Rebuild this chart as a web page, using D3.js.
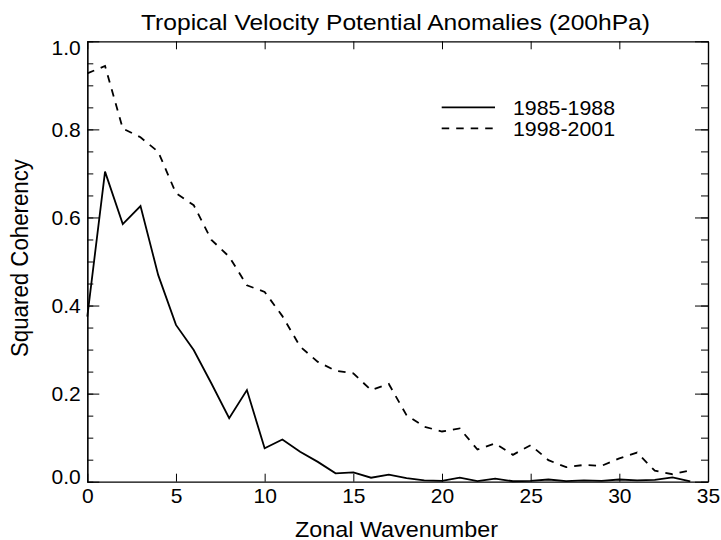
<!DOCTYPE html>
<html>
<head>
<meta charset="utf-8">
<script src="https://cdn.jsdelivr.net/npm/d3@7"></script>
<style>
  body { margin: 0; background: #fff; }
  text { font-family: "Liberation Sans", Arial, sans-serif; fill: #000; }
</style>
</head>
<body>
<div id="container"></div>
<script>
let w = 721;
let h = 540;

// DATA
let wavenumbers = d3.range(0, 35);
let coh8588 = [0.375, 0.704, 0.585, 0.626, 0.469, 0.356, 0.299, 0.223, 0.144, 0.208,
               0.076, 0.096, 0.068, 0.045, 0.019, 0.021, 0.009, 0.016, 0.008, 0.003,
               0.002, 0.009, 0.0015, 0.007, 0.001, 0.002, 0.005, 0.0015, 0.003, 0.002,
               0.005, 0.003, 0.004, 0.010, 0.001];
let coh9801 = [0.927, 0.944, 0.802, 0.782, 0.749, 0.655, 0.628, 0.549, 0.511, 0.446,
               0.431, 0.376, 0.307, 0.272, 0.252, 0.246, 0.208, 0.222, 0.151, 0.125,
               0.114, 0.121, 0.073, 0.087, 0.061, 0.083, 0.049, 0.033, 0.038, 0.036,
               0.053, 0.066, 0.025, 0.017, 0.026];
let seriesNames = ["1985-1988", "1998-2001"];
let xTicks = [0, 5, 10, 15, 20, 25, 30, 35];
let yTicks = [0, 0.2, 0.4, 0.6, 0.8, 1.0];
let yMinor = d3.range(0, 1.0001, 0.05);

let mLeft = 87.3, mRight = 708, mTop = 41.3, mBottom = 481.7;

let viz = d3.select("#container").append("svg")
    .attr("width", w)
    .attr("height", h)
    .style("background-color", "white");

// SCALES
let xScale = d3.scaleLinear().domain([0, 35]).range([mLeft, mRight]);
let yScale = d3.scaleLinear().domain([0, 1]).range([mBottom, mTop]);

// AXES (IDL style box with ticks on all sides)
let xBottom = d3.axisBottom(xScale).tickValues(xTicks).tickSizeInner(-8).tickSizeOuter(0)
    .tickFormat(d3.format("d")).tickPadding(6.4);
let xTop = d3.axisTop(xScale).tickValues(xTicks).tickSizeInner(-8).tickSizeOuter(0).tickFormat("");
let yLeft = d3.axisLeft(yScale).tickValues(yTicks).tickSizeInner(-12).tickSizeOuter(0)
    .tickFormat(d3.format(".1f")).tickPadding(6.6);
let yRight = d3.axisRight(yScale).tickValues(yTicks).tickSizeInner(-13).tickSizeOuter(0).tickFormat("");
let yLeftMinor = d3.axisLeft(yScale).tickValues(yMinor).tickSizeInner(-6).tickSizeOuter(0).tickFormat("");
let yRightMinor = d3.axisRight(yScale).tickValues(yMinor).tickSizeInner(-7).tickSizeOuter(0).tickFormat("");

function styleAxis(g) {
  g.selectAll("path.domain").attr("stroke", "#000").attr("stroke-width", 1.2);
  g.selectAll(".tick line").attr("stroke", "#000").attr("stroke-width", 1);
  g.selectAll(".tick text").style("font-size", "21px").attr("fill", "#000")
    .style("font-family", "'Liberation Sans', Arial, sans-serif");
}

viz.append("g").attr("transform", "translate(0," + mBottom + ")").call(xBottom).call(styleAxis);
viz.append("g").attr("transform", "translate(0," + mTop + ")").call(xTop).call(styleAxis);
viz.append("g").attr("transform", "translate(" + mLeft + ",0)").call(yLeftMinor).call(styleAxis);
let yLeftG = viz.append("g").attr("transform", "translate(" + mLeft + ",0)").call(yLeft).call(styleAxis);
viz.append("g").attr("transform", "translate(" + mRight + ",0)").call(yRightMinor).call(styleAxis);
viz.append("g").attr("transform", "translate(" + mRight + ",0)").call(yRight).call(styleAxis);

// end labels are kept inside the axis range, as in the original
yLeftG.selectAll(".tick text").attr("dy", function(d){
  if (d === 0) return "0.1em";
  if (d === 1) return "0.63em";
  return "0.32em";
});

// LINES
let lineMaker = d3.line()
    .x(function(d, i){ return xScale(wavenumbers[i]); })
    .y(function(d){ return yScale(d); });

viz.append("path")
    .datum(coh8588)
    .attr("d", lineMaker)
    .attr("fill", "none")
    .attr("stroke", "#000")
    .attr("stroke-width", 1.8)
    .attr("stroke-linejoin", "miter");

viz.append("path")
    .datum(coh9801)
    .attr("d", lineMaker)
    .attr("fill", "none")
    .attr("stroke", "#000")
    .attr("stroke-width", 1.8)
    .attr("stroke-dasharray", "7.5,7");

// LEGEND
let legend = viz.append("g");
let legendStyles = [null, "7.5,7"];
seriesNames.forEach(function(name, i){
  let ly = 107.3 + i * 21;
  legend.append("line")
    .attr("x1", 441.7).attr("x2", 495)
    .attr("y1", ly).attr("y2", ly)
    .attr("stroke", "#000")
    .attr("stroke-width", 1.8)
    .attr("stroke-dasharray", legendStyles[i]);
  legend.append("text")
    .attr("x", 513)
    .attr("y", ly + 7.5)
    .style("font-size", "21px")
    .attr("textLength", 102)
    .attr("lengthAdjust", "spacingAndGlyphs")
    .text(name);
});

// TITLES
viz.append("text")
    .attr("x", 395.5)
    .attr("y", 29.5)
    .attr("text-anchor", "middle")
    .style("font-size", "22px")
    .attr("textLength", 509)
    .attr("lengthAdjust", "spacingAndGlyphs")
    .text("Tropical Velocity Potential Anomalies (200hPa)");

viz.append("text")
    .attr("x", 396.5)
    .attr("y", 536.5)
    .attr("text-anchor", "middle")
    .style("font-size", "22px")
    .attr("textLength", 203)
    .attr("lengthAdjust", "spacingAndGlyphs")
    .text("Zonal Wavenumber");

viz.append("text")
    .attr("transform", "translate(28.3,258) rotate(-90)")
    .attr("text-anchor", "middle")
    .style("font-size", "23px")
    .attr("textLength", 198)
    .attr("lengthAdjust", "spacingAndGlyphs")
    .text("Squared Coherency");
</script>
</body>
</html>
